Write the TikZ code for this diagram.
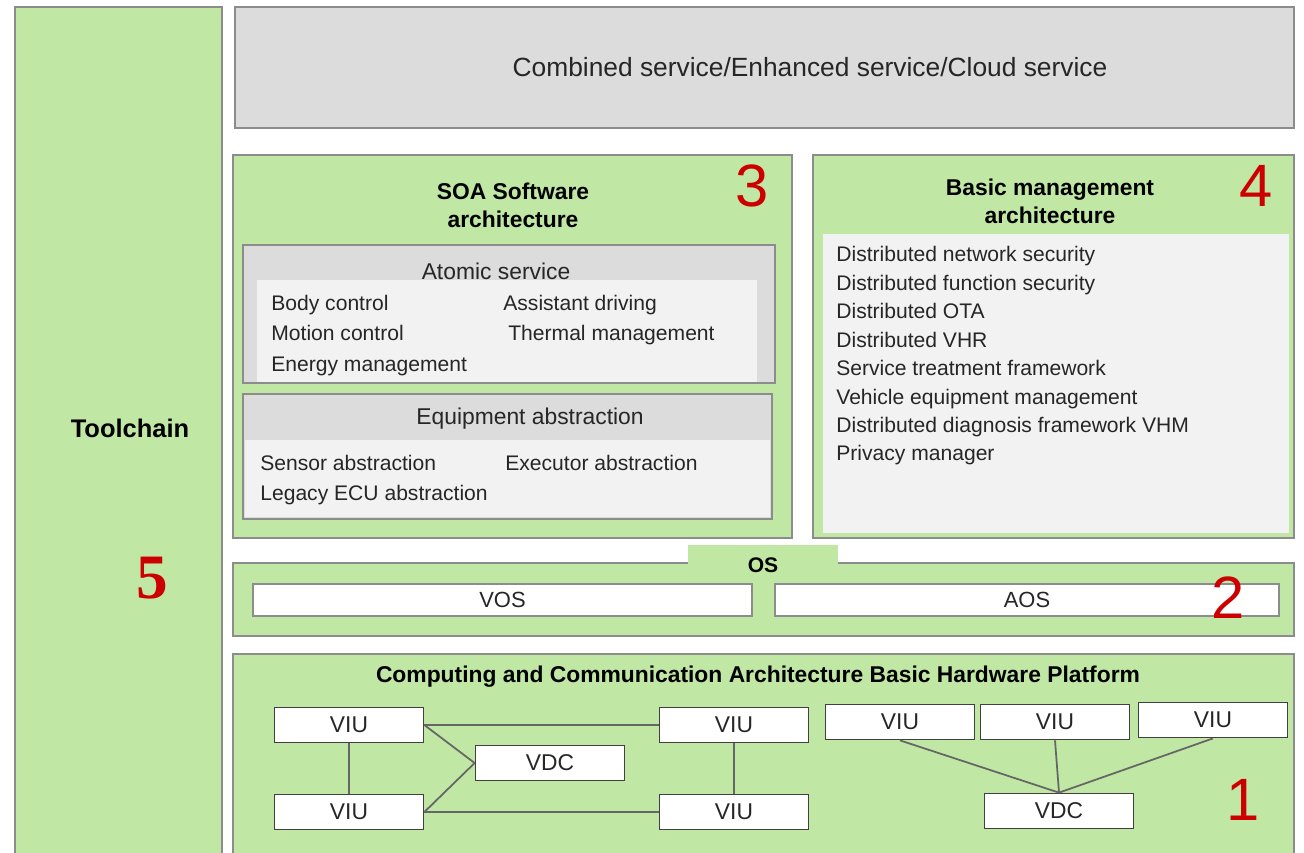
\documentclass[tikz,border=0pt]{standalone}
\usepackage{fontspec}
\setmainfont{Liberation Sans}
\newfontfamily\numserif{Liberation Serif}
\usetikzlibrary{positioning}
\definecolor{panelgreen}{HTML}{C1E7A4}
\definecolor{panelgray}{HTML}{DCDCDC}
\definecolor{panellight}{HTML}{F2F2F2}
\definecolor{framegray}{HTML}{8C8C8C}
\definecolor{marknum}{HTML}{CC0000}
\definecolor{textgray}{HTML}{262626}

\begin{document}
\begin{tikzpicture}[
    x=0.02cm, y=-0.02cm,
    panel/.style={draw=framegray, line width=1pt, fill=panelgreen},
    graypanel/.style={draw=framegray, line width=1pt, fill=panelgray},
    title/.style={font=\bfseries\fontsize{13}{16}\selectfont, align=center, inner sep=0pt},
    head/.style={font=\fontsize{13}{16}\selectfont, text=textgray, inner sep=0pt},
    item/.style={font=\fontsize{12}{16}\selectfont, text=textgray, anchor=west,
        inner sep=0pt, text height=9pt, text depth=2.5pt},
    unit/.style={draw=black!75, fill=white, line width=1pt, minimum width=2.98cm,
        minimum height=0.7cm, font=\fontsize{13}{15}\selectfont, text=textgray},
    osbox/.style={draw=framegray, fill=white, line width=1pt, minimum height=0.64cm,
        font=\fontsize{12.5}{15}\selectfont, text=textgray},
    link/.style={draw=black!60, line width=1pt},
    marker/.style={text=marknum, font=\fontsize{34}{34}\selectfont, inner sep=0pt}
]
\useasboundingbox (0,0) rectangle (1304,852);
\clip (0,0) rectangle (1304,852);

% toolchain column
\draw[panel] (15,7) rectangle (222,860);
\node[font=\bfseries\fontsize{14.5}{17}\selectfont] (tool) at (130,428) {Toolchain};
\node[marker, font=\numserif\bfseries\fontsize{36}{36}\selectfont] (n5) at (152,578) {5};

% cloud layer
\draw[graypanel] (235,7) rectangle (1294,128);
\node[font=\fontsize{15}{18}\selectfont, text=textgray] (cloud) at (810,67)
    {Combined service/Enhanced service/Cloud service};

% SOA software architecture
\draw[panel] (233,155) rectangle (792,538);
\node[title] (soa) at (513,205) {SOA Software\\architecture};
\node[marker] (n3) at (752,186) {3};

\draw[graypanel] (243,245) rectangle (775,383);
\fill[panellight] (257,280) rectangle (757,382);
\node[head] (atomic) at (496,271) {Atomic service};
\node[item] (as1) at (271,305) {Body control};
\node[item] (as2) [below=5.3pt of as1.south west, anchor=north west] {Motion control};
\node[item] (as3) [below=5.3pt of as2.south west, anchor=north west] {Energy management};
\node[item] (as4) at (503,305) {Assistant driving};
\node[item] (as5) at (508,335) {Thermal management};

\draw[graypanel] (243,394) rectangle (772,519);
\fill[panellight] (245,440) rectangle (770,517);
\node[head] (equip) at (530,419) {Equipment abstraction};
\node[item] (ea1) at (260,465) {Sensor abstraction};
\node[item] (ea2) [below=5.3pt of ea1.south west, anchor=north west] {Legacy ECU abstraction};
\node[item] (ea3) at (505,465) {Executor abstraction};

% basic management architecture
\draw[panel] (813,155) rectangle (1294,538);
\fill[panellight] (823,234) rectangle (1289,533);
\node[title] (bm) at (1050,201) {Basic management\\architecture};
\node[marker] (n4) at (1256,186) {4};
\node[item] (bm1) at (836,256) {Distributed network security};
\node[item] (bm2) [below=4.3pt of bm1.south west, anchor=north west] {Distributed function security};
\node[item] (bm3) [below=4.3pt of bm2.south west, anchor=north west] {Distributed OTA};
\node[item] (bm4) [below=4.3pt of bm3.south west, anchor=north west] {Distributed VHR};
\node[item] (bm5) [below=4.3pt of bm4.south west, anchor=north west] {Service treatment framework};
\node[item] (bm6) [below=4.3pt of bm5.south west, anchor=north west] {Vehicle equipment management};
\node[item] (bm7) [below=4.3pt of bm6.south west, anchor=north west] {Distributed diagnosis framework VHM};
\node[item] (bm8) [below=4.3pt of bm7.south west, anchor=north west] {Privacy manager};

% OS layer
\draw[panel] (233,563) rectangle (1294,636);
\node[fill=panelgreen, minimum width=3cm, minimum height=0.8cm,
    font=\bfseries\fontsize{12}{14}\selectfont] (os) at (763,565) {OS};
\node[osbox, minimum width=9.98cm] (vos) at (502.5,600) {VOS};
\node[osbox, minimum width=10.08cm] (aos) at (1027,600) {AOS};
\node[marker] (n2) at (1228,598) {2};

% hardware platform
\draw[panel] (233,654) rectangle (1294,860);
\node[title] (hw) at (758,677)
    {Computing and Communication Architecture Basic Hardware Platform};
\node[marker] (n1) at (1243,800) {1};

\node[unit] (viuA) at (349,725) {VIU};
\node[unit] (viuB) at (734,725) {VIU};
\node[unit] (vdcA) at (550,763) {VDC};
\node[unit] (viuC) at (349,812) {VIU};
\node[unit] (viuD) at (734,812) {VIU};

\draw[link] (viuA) -- (viuB);
\draw[link] (viuA.east) -- (vdcA.west);
\draw[link] (viuC.east) -- (vdcA.west);
\draw[link] (viuC) -- (viuD);
\draw[link] (viuA) -- (viuC);
\draw[link] (viuB) -- (viuD);

\node[unit] (viuE) at (900,722) {VIU};
\node[unit] (viuF) at (1055,722) {VIU};
\node[unit] (viuG) at (1213,720) {VIU};
\node[unit] (vdcB) at (1059,811) {VDC};

\draw[link] (viuE.south) -- (vdcB.north);
\draw[link] (viuF.south) -- (vdcB.north);
\draw[link] (viuG.south) -- (vdcB.north);
\end{tikzpicture}
\end{document}
